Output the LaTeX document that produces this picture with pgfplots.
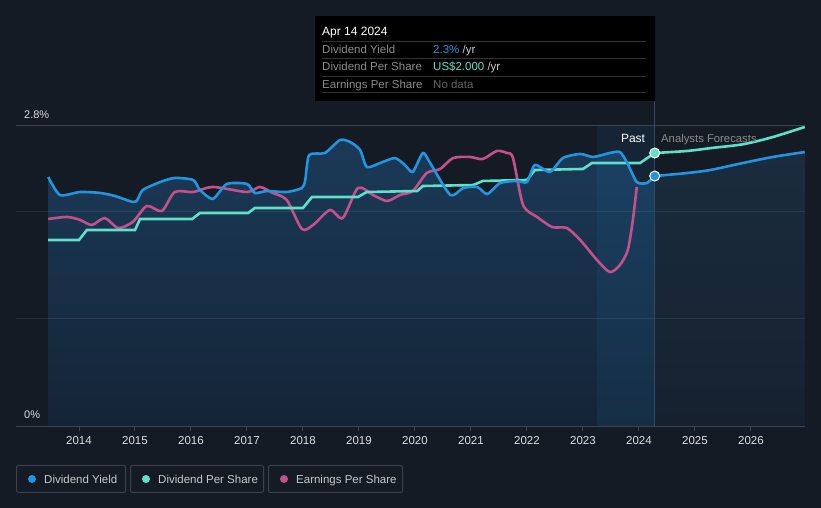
\documentclass[border=0pt]{standalone}
\usepackage{pgfplots}
\pgfplotsset{compat=1.18}
\usepackage{fontspec}
\setmainfont{Liberation Sans}
\definecolor{bg}{RGB}{21,27,37}
\definecolor{cblue}{RGB}{35,148,223}
\definecolor{cteal}{RGB}{94,224,203}
\definecolor{cpink}{RGB}{196,80,140}
\definecolor{fillt}{RGB}{27,58,88}
\definecolor{fillb}{RGB}{20,36,54}
\definecolor{ffillt}{RGB}{26,44,62}
\definecolor{ffillb}{RGB}{22,33,47}
\definecolor{axisc}{RGB}{62,67,77}
\definecolor{tickc}{RGB}{222,222,222}
\definecolor{greyt}{RGB}{140,140,140}
\definecolor{legt}{RGB}{200,200,200}
\definecolor{sepc}{RGB}{50,50,50}
\definecolor{boxc}{RGB}{60,65,76}
\definecolor{vline}{RGB}{45,75,105}
\tikzset{lab/.style={anchor=west, inner sep=0pt, text height=8.4pt, text depth=0pt}}
\begin{document}
\begin{tikzpicture}[x=1pt,y=1pt]
\fill[bg] (0,0) rectangle (821,508);
\begin{axis}[at={(16pt,82pt)}, anchor=south west,
  width=789pt, height=300pt, scale only axis,
  xmin=2012.875, xmax=2026.964, ymin=0, ymax=2.8,
  axis x line=bottom, axis y line=none,
  axis line style={draw=axisc,-},
  xtick={2014,...,2026},
  xticklabel style={text=tickc, font=\fontsize{11.5}{12}\selectfont, yshift=-2pt},
  /pgf/number format/1000 sep={},
  /pgf/number format/assume math mode=true,
  major tick length=5pt, tick align=outside,
  x tick style={draw=axisc, line width=1pt},
  ytick=\empty, clip=false]
% filled area under past yield
\addplot[draw=none, top color=fillt, bottom color=fillb, smooth, tension=0.4] coordinates {
(2013.45,2.324)(2013.66,2.156)(2014.02,2.184)(2014.38,2.175)(2014.64,2.147)(2014.96,2.091)(2015.04,2.109)(2015.14,2.203)(2015.45,2.277)(2015.71,2.315)(2016.04,2.296)(2016.16,2.203)(2016.39,2.119)(2016.64,2.259)(2017.00,2.259)(2017.14,2.175)(2017.36,2.193)(2017.71,2.184)(2017.98,2.221)(2018.04,2.296)(2018.11,2.529)(2018.39,2.548)(2018.66,2.669)(2018.84,2.651)(2019.02,2.576)(2019.14,2.417)(2019.38,2.455)(2019.64,2.501)(2019.82,2.436)(2019.96,2.371)(2020.14,2.548)(2020.27,2.455)(2020.63,2.156)(2020.86,2.221)(2021.11,2.231)(2021.29,2.165)(2021.52,2.268)(2021.82,2.287)(2022.00,2.277)(2022.14,2.436)(2022.41,2.371)(2022.64,2.501)(2022.95,2.539)(2023.18,2.511)(2023.48,2.548)(2023.66,2.557)(2023.79,2.455)(2023.96,2.277)(2024.14,2.268)(2024.28,2.333)
} \closedcycle;
\addplot[draw=none, top color=ffillt, bottom color=ffillb, smooth] coordinates {
(2024.28,2.333)(2024.86,2.361)(2025.27,2.389)(2025.86,2.455)(2026.39,2.511)(2026.96,2.557)
} \closedcycle;
% past highlight band
\fill[cblue, opacity=0.09] (axis cs:2023.25,0) rectangle (axis cs:2024.28,2.8);
% grid lines
\draw[white, opacity=0.08, line width=1pt] (axis cs:2012.875,1) -- (axis cs:2026.964,1);
\draw[white, opacity=0.08, line width=1pt] (axis cs:2012.875,2) -- (axis cs:2026.964,2);
\draw[axisc, line width=1pt] (axis cs:2012.875,2.8) -- (axis cs:2026.964,2.8);
\draw[vline, line width=1pt] (axis cs:2024.28,0) -- (axis cs:2024.28,3.033);
% Earnings per share
\addplot[cpink, line width=2.6pt, smooth, tension=0.45] coordinates {
(2013.45,1.932)(2013.79,1.951)(2014.02,1.923)(2014.23,1.876)(2014.46,1.941)(2014.70,1.848)(2014.96,1.904)(2015.21,2.053)(2015.48,2.007)(2015.71,2.184)(2016.04,2.184)(2016.39,2.231)(2017.00,2.184)(2017.23,2.231)(2017.46,2.175)(2017.71,2.109)(2017.98,1.839)(2018.18,1.876)(2018.48,2.016)(2018.71,1.941)(2018.98,2.221)(2019.25,2.156)(2019.50,2.100)(2019.73,2.156)(2019.96,2.193)(2020.21,2.361)(2020.45,2.399)(2020.68,2.501)(2020.98,2.511)(2021.21,2.492)(2021.46,2.567)(2021.64,2.548)(2021.75,2.501)(2021.93,2.063)(2022.18,1.951)(2022.45,1.857)(2022.71,1.848)(2022.95,1.736)(2023.25,1.549)(2023.48,1.437)(2023.66,1.503)(2023.80,1.643)(2023.89,1.923)(2023.96,2.231)
};
% Dividend per share
\addplot[cteal, line width=2.6pt] coordinates {
(2013.45,1.736)(2014.00,1.736)(2014.14,1.829)(2015.00,1.829)(2015.09,1.932)(2016.02,1.932)(2016.16,1.988)(2017.02,1.988)(2017.14,2.035)(2018.00,2.035)(2018.16,2.137)(2018.98,2.137)(2019.14,2.184)(2020.04,2.193)(2020.14,2.240)(2021.04,2.249)(2021.21,2.287)(2022.00,2.296)(2022.14,2.389)(2023.00,2.399)(2023.16,2.455)(2024.02,2.455)(2024.28,2.548)
};
\addplot[cteal, line width=2.6pt, smooth] coordinates {
(2024.28,2.548)(2024.86,2.567)(2025.3,2.595)(2025.86,2.63)(2026.39,2.697)(2026.96,2.791)
};
% Dividend yield
\addplot[cblue, line width=2.6pt, smooth, tension=0.4] coordinates {
(2013.45,2.324)(2013.66,2.156)(2014.02,2.184)(2014.38,2.175)(2014.64,2.147)(2014.96,2.091)(2015.04,2.109)(2015.14,2.203)(2015.45,2.277)(2015.71,2.315)(2016.04,2.296)(2016.16,2.203)(2016.39,2.119)(2016.64,2.259)(2017.00,2.259)(2017.14,2.175)(2017.36,2.193)(2017.71,2.184)(2017.98,2.221)(2018.04,2.296)(2018.11,2.529)(2018.39,2.548)(2018.66,2.669)(2018.84,2.651)(2019.02,2.576)(2019.14,2.417)(2019.38,2.455)(2019.64,2.501)(2019.82,2.436)(2019.96,2.371)(2020.14,2.548)(2020.27,2.455)(2020.63,2.156)(2020.86,2.221)(2021.11,2.231)(2021.29,2.165)(2021.52,2.268)(2021.82,2.287)(2022.00,2.277)(2022.14,2.436)(2022.41,2.371)(2022.64,2.501)(2022.95,2.539)(2023.18,2.511)(2023.48,2.548)(2023.66,2.557)(2023.79,2.455)(2023.96,2.277)(2024.14,2.268)(2024.28,2.333)
};
\addplot[cblue, line width=2.6pt, smooth] coordinates {
(2024.28,2.333)(2024.86,2.361)(2025.27,2.389)(2025.86,2.455)(2026.39,2.511)(2026.96,2.557)
};
% highlighted points
\addplot[only marks, mark=*, mark size=5pt, mark options={fill=cteal, draw=white, line width=1pt}] coordinates {(2024.28,2.548)};
\addplot[only marks, mark=*, mark size=5pt, mark options={fill=cblue, draw=white, line width=1pt}] coordinates {(2024.28,2.333)};
\end{axis}
% y labels
\node[lab, text=tickc, font=\fontsize{11}{12}\selectfont] at (24,394) {2.8\%};
\node[lab, text=tickc, font=\fontsize{11}{12}\selectfont] at (24,94) {0\%};
% Past / forecast labels
\node[lab, anchor=center, text=white, font=\fontsize{12}{12}\selectfont] at (633,370) {Past};
\node[lab, text=greyt, font=\fontsize{11.3}{12}\selectfont] at (661,370) {Analysts Forecasts};
% tooltip
\fill[black] (315,407) rectangle (655,492);
\node[lab, text=white, font=\fontsize{12}{12}\selectfont] at (322,477) {Apr 14 2024};
\foreach \yy in {466.3,449.7,431.7,415} {\draw[sepc, line width=1pt] (322,\yy) -- (646,\yy);}
\node[lab, text=greyt, font=\fontsize{11.5}{12}\selectfont] at (322,458.5) {Dividend Yield};
\node[lab, text=greyt, font=\fontsize{11.5}{12}\selectfont] at (322,441.5) {Dividend Per Share};
\node[lab, text=greyt, font=\fontsize{11.5}{12}\selectfont] at (322,424) {Earnings Per Share};
\node[lab, font=\fontsize{11.5}{12}\selectfont] at (433,458.5) {\textcolor{cblue}{2.3\%} \textcolor{legt}{/yr}};
\node[lab, font=\fontsize{11.5}{12}\selectfont] at (433,441.5) {\textcolor{cteal}{US\$2.000} \textcolor{legt}{/yr}};
\node[lab, text={rgb,255:red,100;green,100;blue,100}, font=\fontsize{11.5}{12}\selectfont] at (433,424) {No data};
% legend
\draw[boxc, line width=1pt, rounded corners=2pt] (16.5,15.5) rectangle (125.5,42.5);
\draw[boxc, line width=1pt, rounded corners=2pt] (130.5,15.5) rectangle (263.5,42.5);
\draw[boxc, line width=1pt, rounded corners=2pt] (268.5,15.5) rectangle (402.5,42.5);
\fill[cblue] (32,29) circle (4pt);
\fill[cteal] (146,29) circle (4pt);
\fill[cpink] (284,29) circle (4pt);
\node[lab, text=legt, font=\fontsize{11.5}{12}\selectfont] at (44,29) {Dividend Yield};
\node[lab, text=legt, font=\fontsize{11.5}{12}\selectfont] at (158,29) {Dividend Per Share};
\node[lab, text=legt, font=\fontsize{11.5}{12}\selectfont] at (296,29) {Earnings Per Share};
\pgfresetboundingbox
\useasboundingbox (0,0) rectangle (821,508);
\end{tikzpicture}
\end{document}
